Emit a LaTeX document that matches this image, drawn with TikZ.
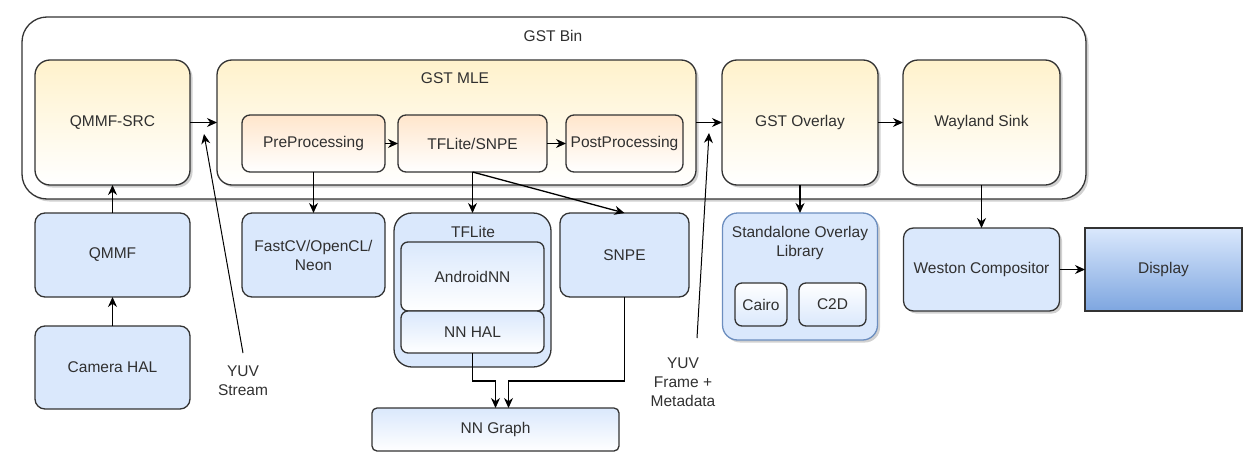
\documentclass[tikz,border=0pt]{standalone}
\usepackage{fontspec}
\setmainfont{Liberation Sans}
\usetikzlibrary{arrows.meta,shadows}
\definecolor{yelfill}{HTML}{FFF2CC}
\definecolor{pchfill}{HTML}{FFE6CC}
\definecolor{blufill}{HTML}{DAE8FC}
\definecolor{bludark}{HTML}{7EA6E0}
\definecolor{bluline}{HTML}{6C8EBF}
\definecolor{edge}{HTML}{333333}
\definecolor{txt}{HTML}{303030}

\begin{document}
\begin{tikzpicture}[x=1pt, y=-1pt, line width=1.3pt, >={Stealth[length=10pt, width=9pt]}]
\tikzstyle{box}=[rectangle, draw=edge, outer sep=0pt, inner sep=2pt, text=txt,
                 align=center, font=\fontsize{15.5}{19}\selectfont]
\tikzstyle{shd}=[drop shadow={shadow xshift=2.5pt, shadow yshift=-2.5pt, opacity=0.3, fill=black!60}]
\tikzstyle{gst}=[box, shd, rounded corners=15pt, top color=yelfill, bottom color=white]
\tikzstyle{sub}=[box, rounded corners=8pt, top color=pchfill, bottom color=white]
\tikzstyle{blu}=[box, rounded corners=10pt, fill=blufill]
\tikzstyle{grd}=[box, rounded corners=7pt, top color=blufill, bottom color=white]
\tikzstyle{lbl}=[inner sep=0pt, text=txt, align=center, font=\fontsize{15.5}{19}\selectfont]

\useasboundingbox (0,0) rectangle (1252,471);

% the bin and what runs in it
\node[box, shd, fill=white, rounded corners=25pt, minimum width=1064pt, minimum height=182pt] (bin) at (554,108) {};
\node[lbl] (binlbl) at (553,36) {GST Bin};
\node[gst, minimum width=155pt, minimum height=125pt] (qsrc) at (112.5,122.5) {QMMF-SRC};
\node[gst, minimum width=479pt, minimum height=125pt] (mle) at (456.5,122.5) {};
\node[lbl] (mlelbl) at (455,78) {GST MLE};
\node[sub, minimum width=143pt, minimum height=57pt] (pre) at (313.5,143.5) {PreProcessing};
\node[sub, minimum width=149pt, minimum height=57pt] (tfs) at (472.5,143.5) {TFLite/SNPE};
\node[sub, minimum width=117pt, minimum height=57pt] (post) at (624.5,143.5) {PostProcessing};
\node[gst, minimum width=156pt, minimum height=125pt] (ovl) at (800,122.5) {GST Overlay};
\node[gst, minimum width=157pt, minimum height=125pt] (sink) at (981.5,122.5) {Wayland Sink};

% libraries below
\node[blu, minimum width=155pt, minimum height=84pt] (qmmf) at (112.5,255) {QMMF};
\node[blu, minimum width=155pt, minimum height=83pt] (cam) at (112.5,367.5) {Camera HAL};
\node[blu, minimum width=143pt, minimum height=84pt] (fcv) at (313.5,255) {FastCV/OpenCL/\\Neon};
\node[box, fill=blufill, rounded corners=18pt, minimum width=157pt, minimum height=154pt] (tfl) at (472.5,290) {};
\node[lbl] (tfllbl) at (473,232) {TFLite};
\node[grd, minimum width=143pt, minimum height=69pt] (ann) at (472.5,276.5) {AndroidNN};
\node[grd, minimum width=143pt, minimum height=42pt] (nnhal) at (472.5,332) {NN HAL};
\node[blu, minimum width=129pt, minimum height=84pt] (snpe) at (624.5,255) {SNPE};
\node[grd, rounded corners=5pt, minimum width=247pt, minimum height=43pt] (graph) at (495.5,429.5) {NN Graph};
\node[box, shd, fill=blufill, draw=bluline, rounded corners=15pt, minimum width=155pt, minimum height=127pt] (sol) at (800,276.5) {};
\node[lbl, anchor=north] (sollbl) at (800,226) {Standalone Overlay\\Library};
\node[grd, top color=white, bottom color=blufill, minimum width=52pt, minimum height=43pt] (cairo) at (761,304.5) {Cairo};
\node[grd, top color=white, bottom color=blufill, minimum width=67pt, minimum height=43pt] (c2d) at (832.5,304.5) {C2D};
\node[blu, shd, minimum width=156pt, minimum height=83pt] (west) at (981.5,269.5) {Weston Compositor};
\node[box, draw=edge, top color=blufill, bottom color=bludark, minimum width=157pt, minimum height=83pt] (disp) at (1163.5,269.5) {Display};

% stream notes
\node[lbl, anchor=north] (yuvs) at (243,365) {YUV\\Stream};
\node[lbl, anchor=north] (yuvf) at (683,357) {YUV\\Frame +\\Metadata};
\coordinate (yuvstip) at (204,134);
\coordinate (yuvftip) at (709,133);

\foreach \i/\j in {qsrc/mle,mle/ovl,ovl/sink,pre/tfs,tfs/post,qmmf/qsrc,cam/qmmf,pre/fcv,tfs/tfl,ovl/sol,sink/west,west/disp}{\draw[->] (\i) -- (\j);}
\draw[->] (tfs.south) -- (snpe.north);
\draw[->] (nnhal.south) -- ++(0,28) -| (graph.north);
\draw[->] (snpe.south) -- ++(0,84) -| ([xshift=13pt]graph.north);
\draw[->, line width=1pt] ([yshift=12pt]yuvs.north) -- (yuvstip);
\draw[->, line width=1pt] ([shift={(14pt,19pt)}]yuvf.north) -- (yuvftip);

\end{tikzpicture}
\end{document}
